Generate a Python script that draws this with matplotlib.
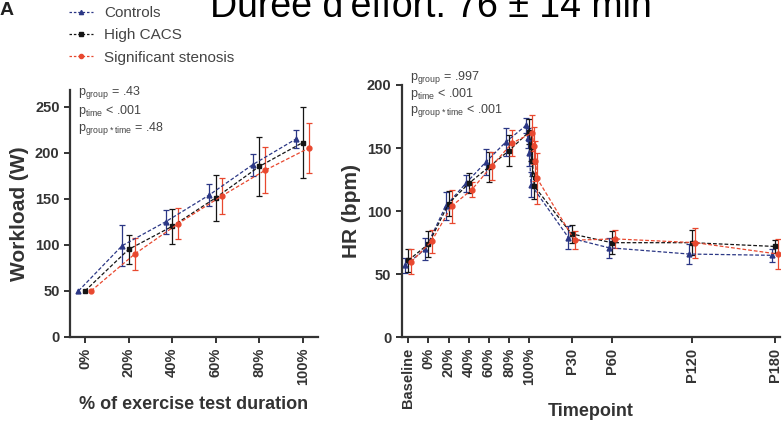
import numpy as np
import matplotlib
matplotlib.use("Agg")
import matplotlib.pyplot as plt
from matplotlib.lines import Line2D

plt.rcParams["font.family"] = ["Liberation Sans", "DejaVu Sans"]

W, H = 782, 422

groups = ["Controls", "High CACS", "Significant stenosis"]
colors = ["#2b3785", "#151515", "#e8482f"]
markers = ["^", "s", "o"]

# workload vs % of exercise test duration
wl_pct = [0, 20, 40, 60, 80, 100]
wl_ticklabels = ["0%", "20%", "40%", "60%", "80%", "100%"]
wl_controls = [50, 99, 125, 154, 187, 215]
wl_controls_sd = [np.nan, 22, 13, 12, 12, 10]
wl_cacs = [50, 95, 120, 151, 185, 211]
wl_cacs_sd = [np.nan, 16, 19, 25, 32, 39]
wl_sten = [50, 90, 123, 153, 181, 205]
wl_sten_sd = [np.nan, 17, 17, 20, 25, 27]

# heart rate vs timepoint (x in time units, recovery points right after peak)
hr_x = [0, 1, 2, 3, 4, 5, 6, 6.08, 6.16, 6.24, 8.1, 10.1, 14.1, 18.2]
hr_ticks = [0, 1, 2, 3, 4, 5, 6, 8.1, 10.1, 14.1, 18.2]
hr_ticklabels = ["Baseline", "0%", "20%", "40%", "60%", "80%", "100%",
                 "P30", "P60", "P120", "P180"]
hr_controls = [57, 70, 104, 122, 139, 155, 168, 158, 146, 121, 79, 71, 66, 65]
hr_controls_sd = [6, 9, 11, 7, 10, 11, 6, 8, 10, 10, 9, 8, 8, 5]
hr_cacs = [61, 74, 106, 122, 135, 148, 163, 151, 140, 120, 82, 75, 75, 72]
hr_cacs_sd = [9, 10, 10, 8, 12, 12, 10, 11, 12, 10, 7, 9, 10, 5]
hr_sten = [60, 76, 104, 117, 136, 154, 162, 152, 140, 126, 77, 78, 75, 66]
hr_sten_sd = [10, 9, 13, 6, 11, 10, 14, 15, 16, 20, 7, 7, 12, 12]


def fx(x):
    return x / W


def fy(y):
    return 1 - y / H


def style_axis(ax):
    for s in ["top", "right"]:
        ax.spines[s].set_visible(False)
    for s in ["left", "bottom"]:
        ax.spines[s].set_linewidth(1.6)
        ax.spines[s].set_color("#333333")
    ax.tick_params(direction="out", length=4, width=1.4, colors="#333333",
                   labelsize=10.5)
    for lab in ax.get_xticklabels() + ax.get_yticklabels():
        lab.set_fontweight("bold")


def draw_series(ax, x, offset, y, sd, color, marker):
    xs = np.array(x, dtype=float) + offset
    ax.errorbar(xs, y, yerr=sd, color=color, ecolor=color, marker=marker,
                ms=3.5, lw=0.9, ls=(0, (3, 1.6)), elinewidth=0.9,
                capsize=2.2, capthick=0.9)


fig = plt.figure(figsize=(W / 100, H / 100), dpi=100)

# left panel: workload
ax1 = fig.add_axes([fx(70), fy(337), fx(318) - fx(70), (337 - 90) / H])
wl_series = [(wl_controls, wl_controls_sd), (wl_cacs, wl_cacs_sd), (wl_sten, wl_sten_sd)]
for (y, sd), c, m, off in zip(wl_series, colors, markers, [-3, 0, 2.8]):
    draw_series(ax1, wl_pct, off, y, sd, c, m)
ax1.set_xlim(-6.9, 107)
ax1.set_ylim(0, 268)
ax1.set_xticks(wl_pct)
ax1.set_xticklabels(wl_ticklabels, rotation=90)
ax1.set_yticks([0, 50, 100, 150, 200, 250])
ax1.set_ylabel("Workload (W)", fontsize=15, fontweight="bold", color="#333333", labelpad=4)
ax1.set_xlabel("% of exercise test duration", fontsize=13, fontweight="bold",
               color="#333333", labelpad=8)
style_axis(ax1)

# right panel: heart rate
ax2 = fig.add_axes([fx(401.7), fy(337.3), fx(780) - fx(401.7), (337.3 - 85) / H])
hr_series = [(hr_controls, hr_controls_sd), (hr_cacs, hr_cacs_sd), (hr_sten, hr_sten_sd)]
for (y, sd), c, m, off in zip(hr_series, colors, markers, [-0.15, 0, 0.15]):
    draw_series(ax2, hr_x, off, y, sd, c, m)
ax2.set_xlim(-0.33, 18.45)
ax2.set_ylim(0, 200)
ax2.set_xticks(hr_ticks)
ax2.set_xticklabels(hr_ticklabels, rotation=90)
ax2.set_yticks([0, 50, 100, 150, 200])
ax2.set_ylabel("HR (bpm)", fontsize=15, fontweight="bold", color="#333333", labelpad=4)
ax2.set_xlabel("Timepoint", fontsize=13, fontweight="bold", color="#333333")
ax2.xaxis.set_label_coords(0.5, -0.262)
style_axis(ax2)

# p-values
tcol = "#444444"
left_p = [r"p$_{\mathregular{group}}$ = .43", r"p$_{\mathregular{time}}$ < .001",
          r"p$_{\mathregular{group*time}}$ = .48"]
for i, t in enumerate(left_p):
    fig.text(fx(78), fy(93 + 18 * i), t, fontsize=9, color=tcol, va="center")
right_p = [r"p$_{\mathregular{group}}$ = .997", r"p$_{\mathregular{time}}$ < .001",
           r"p$_{\mathregular{group*time}}$ < .001"]
for i, t in enumerate(right_p):
    fig.text(fx(410), fy(78 + 16.5 * i), t, fontsize=9, color=tcol, va="center")

# legend
handles = [Line2D([], [], color=c, marker=m, ms=3, lw=0.9, ls=(0, (2, 1.5)))
           for c, m in zip(colors, markers)]
leg = fig.legend(handles, groups, loc="upper left", bbox_to_anchor=(fx(69), fy(6)),
                 frameon=False, fontsize=11, handlelength=1.6, handletextpad=0.7,
                 labelspacing=0.55, borderpad=0, borderaxespad=0)
for t in leg.get_texts():
    t.set_color(tcol)

fig.text(0, fy(15), "A", fontsize=14, fontweight="bold", color="#222222", va="baseline")
fig.text(fx(210), fy(17), "Durée d'effort: 76 ± 14 min", fontsize=27, color="black",
         va="baseline", ha="left")

fig.savefig("out.png", dpi=100)
